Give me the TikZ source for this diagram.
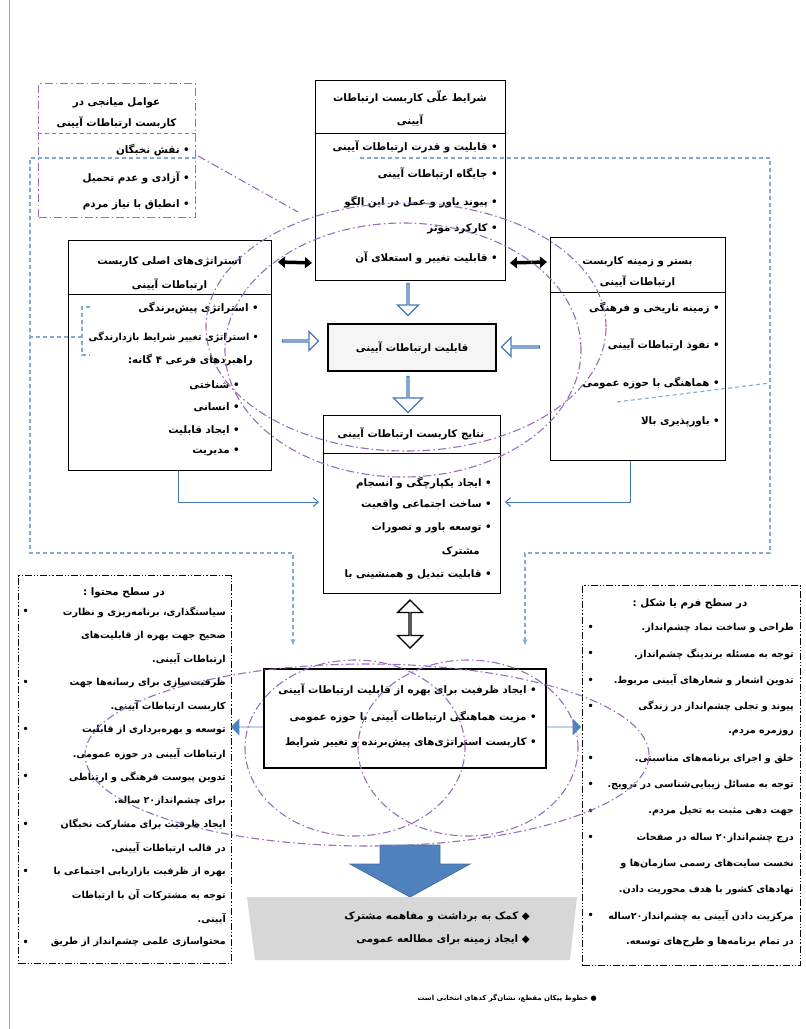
\documentclass[tikz,border=0pt]{standalone}
\usepackage{fontspec}
\usetikzlibrary{arrows.meta,shapes.arrows,calc}
\TeXXeTstate=1
\newfontfamily\arabicfont[Script=Arabic]{DejaVu Sans}
\newcommand{\fa}[1]{{\arabicfont\bfseries\beginR #1\endR}}
\newcommand{\fan}[1]{{\arabicfont\beginR #1\endR}}
\definecolor{pur}{RGB}{150,110,185}
\definecolor{lblue}{RGB}{130,170,215}
\definecolor{ablue}{RGB}{70,120,185}
\definecolor{fblue}{RGB}{79,129,189}
\definecolor{bannergray}{RGB}{215,215,215}
\tikzset{
  box/.style={draw=black, line width=0.9pt, fill=white, anchor=north west, inner sep=0pt},
  t/.style={font=\fontsize{10.3}{12}\selectfont, inner sep=0pt},
  tr/.style={t, anchor=east},
  ts/.style={font=\fontsize{9.6}{11}\selectfont, inner sep=0pt, anchor=east},
  purdd/.style={draw=pur, line width=1.1pt, dash pattern=on 8pt off 3pt on 1.5pt off 3pt},
  bdash/.style={draw=lblue, line width=1.1pt, dash pattern=on 4pt off 3pt},
  bdarrow/.style={bdash, -{Stealth[length=6pt,width=5pt]}},
  barrow/.style={draw=ablue, line width=1pt, -{Straight Barb[length=5pt,width=9pt]}},
  hollow/.style={single arrow, draw=ablue, fill=white, line width=1.3pt, inner sep=0pt, single arrow head extend=6pt},
  ddbox/.style={draw=black, line width=1pt, dash pattern=on 7pt off 2pt on 1.2pt off 2pt on 1.2pt off 2pt, fill=white, anchor=north west, inner sep=0pt},
}
\begin{document}
\begin{tikzpicture}[x=1pt,y=-1pt]
\useasboundingbox (0,0) rectangle (806,1029);
\draw[gray!70, line width=0.6pt] (9,0) -- (9,1029);

% ---------- mediator box
\node[purdd, fill=white, anchor=north west, minimum width=157pt, minimum height=134pt, inner sep=0pt] (M) at (38,83) {};
\node[t] (Mh1) at (116.5,103) {\fa{عوامل میانجی در}};
\node[t] (Mh2) at (116.5,123) {\fa{کاربست ارتباطات آیینی}};
\draw[draw=pur, line width=1pt, dash pattern=on 4pt off 3pt] ($(M.north west)+(0,50)$) -- ($(M.north east)+(0,50)$);
\node[tr] (M1) at (190,150) {\fa{• نقش نخبگان}};
\node[tr] (M2) at (190,178) {\fa{• آزادی و عدم تحمیل}};
\node[tr] (M3) at (190,205) {\fa{• انطباق با نیاز مردم}};

% ---------- cause box
\node[box, minimum width=190pt, minimum height=200pt] (C) at (315,80) {};
\node[t] (Ch1) at (410,97) {\fa{شرایط علّی کاربست ارتباطات}};
\node[t] (Ch2) at (410,120) {\fa{آیینی}};
\draw[line width=0.9pt] ($(C.north west)+(0,53)$) -- ($(C.north east)+(0,53)$);
\node[tr] (C1) at (498,147) {\fa{• قابلیت و قدرت ارتباطات آیینی}};
\node[tr] (C2) at (498,174) {\fa{• جایگاه ارتباطات آیینی}};
\node[tr] (C3) at (498,202) {\fa{• پیوند باور و عمل در این الگو}};
\node[tr] (C4) at (498,229) {\fa{• کارکرد موثر}};
\node[tr] (C5) at (498,258) {\fa{• قابلیت تغییر و استعلای آن}};

% ---------- context box
\node[box, minimum width=175pt, minimum height=223pt] (R) at (550,237) {};
\node[t] (Rh1) at (637.5,262) {\fa{بستر و زمینه کاربست}};
\node[t] (Rh2) at (637.5,282) {\fa{ارتباطات آیینی}};
\draw[line width=0.9pt] ($(R.north west)+(0,55)$) -- ($(R.north east)+(0,55)$);
\node[tr] (R1) at (720,308) {\fa{• زمینه تاریخی و فرهنگی}};
\node[tr] (R2) at (720,345) {\fa{• نفوذ ارتباطات آیینی}};
\node[tr] (R3) at (720,383) {\fa{• هماهنگی با حوزه عمومی}};
\node[tr] (R4) at (720,422) {\fa{• باورپذیری بالا}};

% ---------- strategy box
\node[box, minimum width=203pt, minimum height=230pt] (S) at (68,240) {};
\node[t] (Sh1) at (169.5,262) {\fa{استراتژی‌های اصلی کاربست}};
\node[t] (Sh2) at (169.5,285) {\fa{ارتباطات آیینی}};
\draw[line width=0.9pt] ($(S.north west)+(0,54)$) -- ($(S.north east)+(0,54)$);
\node[tr] (S1) at (259,308) {\fa{• استراتژی پیش‌برندگی}};
\node[ts] (S2) at (259,337) {\fa{• استراتژی تغییر شرایط بازدارندگی}};
\node[tr] (S3) at (253,360) {\fa{راهبردهای فرعی ۴ گانه:}};
\node[tr] (S4) at (240,385) {\fa{• شناختی}};
\node[tr] (S5) at (240,407) {\fa{• انسانی}};
\node[tr] (S6) at (240,430) {\fa{• ایجاد قابلیت}};
\node[tr] (S7) at (240,452) {\fa{• مدیریت}};

% ---------- capability box
\node[box, line width=2.4pt, fill=gray!8, minimum width=168pt, minimum height=47pt] (K) at (327,323) {};
\node[t] (Kt) at (K.center) {\fa{قابلیت ارتباطات آیینی}};

% ---------- results box
\node[box, minimum width=177pt, minimum height=178pt] (N) at (323,415) {};
\node[t] (Nh) at (411,434) {\fa{نتایج کاربست ارتباطات آیینی}};
\draw[line width=0.9pt] ($(N.north west)+(0,38)$) -- ($(N.north east)+(0,38)$);
\node[tr] (N1) at (492,483) {\fa{• ایجاد یکپارچگی و انسجام}};
\node[tr] (N2) at (492,505) {\fa{• ساخت اجتماعی واقعیت}};
\node[tr] (N3) at (492,528) {\fa{• توسعه باور و تصورات}};
\node[tr] (N4) at (480,552) {\fa{مشترک}};
\node[tr] (N5) at (492,575) {\fa{• قابلیت تبدیل و همنشینی با}};

% ---------- outcome box
\node[box, line width=1.6pt, minimum width=282pt, minimum height=99pt] (O) at (263,668) {};
\node[tr] (O1) at (537,690) {\fa{• ایجاد ظرفیت برای بهره از قابلیت ارتباطات آیینی}};
\node[tr] (O2) at (537,717) {\fa{• مزیت هماهنگی ارتباطات آیینی با حوزه عمومی}};
\node[tr] (O3) at (537,743) {\fa{• کاربست استراتژی‌های پیش‌برنده و تغییر شرایط}};

% ---------- content box (left bottom)
\node[ddbox, minimum width=213pt, minimum height=388pt] (L) at (18,575) {};
\node[t] (Lh) at (124,593) {\fa{در سطح محتوا :}};
\foreach \i/\b/\s in {0/1/{سیاستگذاری، برنامه‌ریزی و نظارت},1/0/{صحیح جهت بهره از قابلیت‌های},2/0/{ارتباطات آیینی.},3/1/{ظرفیت‌سازی برای رسانه‌ها جهت},4/0/{کاربست ارتباطات آیینی.},5/1/{توسعه و بهره‌برداری از قابلیت},6/0/{ارتباطات آیینی در حوزه عمومی.},7/1/{تدوین پیوست فرهنگی و ارتباطی},8/0/{برای چشم‌انداز۲۰ ساله.},9/1/{ایجاد ظرفیت برای مشارکت نخبگان},10/0/{در قالب ارتباطات آیینی.},11/1/{بهره از ظرفیت بازاریابی اجتماعی با},12/0/{توجه به مشترکات آن با ارتباطات},13/0/{آیینی.},14/1/{محتواسازی علمی چشم‌انداز از طریق}}{
  \node[ts] (L\i) at (226,612+23.6*\i) {\fa{\s}};
  \ifnum\b=1 \node[ts] (Lb\i) at (29,612+23.6*\i) {\fa{•}};\fi
}

% ---------- form box (right bottom)
\node[ddbox, minimum width=218pt, minimum height=380pt] (F) at (582,585) {};
\node[t] (Fh) at (690,604) {\fa{در سطح فرم یا شکل :}};
\foreach \i/\b/\s in {0/1/{طراحی و ساخت نماد چشم‌انداز.},1/1/{توجه به مسئله برندینگ چشم‌انداز.},2/1/{تدوین اشعار و شعارهای آیینی مربوط.},3/1/{پیوند و تجلی چشم‌انداز در زندگی},4/0/{روزمره مردم.},5/1/{خلق و اجرای برنامه‌های مناسبتی.},6/1/{توجه به مسائل زیبایی‌شناسی در ترویج.},7/1/{جهت دهی مثبت به تخیل مردم.},8/1/{درج چشم‌انداز۲۰ ساله در صفحات},9/0/{نخست سایت‌های رسمی سازمان‌ها و},10/0/{نهادهای کشور با هدف محوریت دادن.},11/1/{مرکزیت دادن آیینی به چشم‌انداز۲۰ساله},12/0/{در تمام برنامه‌ها و طرح‌های توسعه.}}{
  \node[ts] (F\i) at (794,628+26.2*\i) {\fa{\s}};
  \ifnum\b=1 \node[ts] (Fb\i) at (594,628+26.2*\i) {\fa{•}};\fi
}

% ---------- hollow blue arrows
\node[hollow, minimum height=32pt, minimum width=21pt, rotate=-90] (h1) at (408,299) {};
\node[hollow, minimum height=36pt, minimum width=19pt, single arrow head extend=5pt] (h2) at (300,341) {};
\node[hollow, minimum height=38pt, minimum width=19pt, single arrow head extend=5pt, rotate=180] (h3) at (521,347) {};
\node[hollow, minimum height=36pt, minimum width=29pt, single arrow head extend=8pt, rotate=-90] (h4) at (408,394) {};

% ---------- black double arrows
\draw[line width=3.5pt, {Triangle[length=7pt,width=11pt]}-{Triangle[length=7pt,width=11pt]}] ($(S.north east)+(6,22)$) -- ($(C.south west)+(-3,-18)$);
\draw[line width=3.5pt, {Triangle[length=7pt,width=11pt]}-{Triangle[length=7pt,width=11pt]}] ($(C.south east)+(4,-18)$) -- ($(R.north west)+(-3,25)$);

% ---------- thin blue arrows
\draw[barrow, shorten >=4pt] ($(S.south west)+(110,0)$) |- ($(N.north west)+(0,87)$);
\draw[barrow, shorten >=4pt] ($(R.south west)+(80,0)$) |- ($(N.north east)+(0,87)$);

% ---------- hollow double arrow
\node[double arrow, draw=black, fill=white, line width=1.4pt, minimum height=48pt, minimum width=25pt, double arrow head extend=8pt, rotate=90, inner sep=0pt] (dd) at (410,624) {};

% ---------- filled blue arrows
\node[single arrow, fill=fblue, minimum height=32pt, minimum width=17pt, single arrow head extend=4.5pt, rotate=180, inner sep=0pt] (fa1) at (247,727) {};
\node[single arrow, fill=fblue, minimum height=34pt, minimum width=17pt, single arrow head extend=4.5pt, inner sep=0pt] (fa2) at (564,727) {};

% ---------- big arrow
\filldraw[fill=fblue, draw=fblue!85!black, line width=0.8pt] (380,845) -- (440,845) -- (440,864) -- (470,864) -- (410,897) -- (350,864) -- (380,864) -- cycle;

% ---------- banner
\fill[bannergray] (247,897) -- (577,897) -- (570,960) -- (255,960) -- cycle;
\node[tr] (B1) at (530,917) {\fa{◆ کمک به برداشت و مفاهمه مشترک}};
\node[tr] (B2) at (530,940) {\fa{◆ ایجاد زمینه برای مطالعه عمومی}};

% ---------- footer
\node[font=\fontsize{7}{8}\selectfont, inner sep=0pt, anchor=east] (foot) at (597,998) {\fa{● خطوط پیکان مقطع، نشان‌گر کدهای انتخابی است}};

% ---------- selective (blue dashed) lines
\coordinate (pL1) at (30,158);
\coordinate (pL2) at (30,553);
\coordinate (pL3) at (293,553);
\coordinate (pL4) at (293,645);
\coordinate (pR0) at (360,158);
\coordinate (pR1) at (770,158);
\coordinate (pR2) at (770,553);
\coordinate (pR3) at (525,553);
\coordinate (pR4) at (525,645);
\draw[bdarrow] (M.east |- pL1) -- (pL1) -- (pL2) -- (pL3) -- (pL4);
\draw[bdarrow] (pR0) -- (pR1) -- (pR2) -- (pR3) -- (pR4);
\draw[bdash] ($(R.west)+(67,53)$) -- (pR1 |- R3);
\draw[bdash] (90,307) -- (82,307) -- (82,355) -- (90,355);
\draw[bdash] (82,337) -- (pL1 |- S2);

% ---------- purple arcs
\draw[purdd] ($(M.north east)+(2,73)$) -- (298,212);
\draw[purdd] (406,327) ellipse [x radius=200pt, y radius=124pt];
\draw[purdd] (403,350) ellipse [x radius=178pt, y radius=127pt];
\draw[purdd] (367,755) ellipse [x radius=282pt, y radius=91pt];
\draw[purdd] (355,748) ellipse [x radius=110pt, y radius=88pt];
\draw[purdd] (468,748) ellipse [x radius=110pt, y radius=88pt];
\end{tikzpicture}
\end{document}
